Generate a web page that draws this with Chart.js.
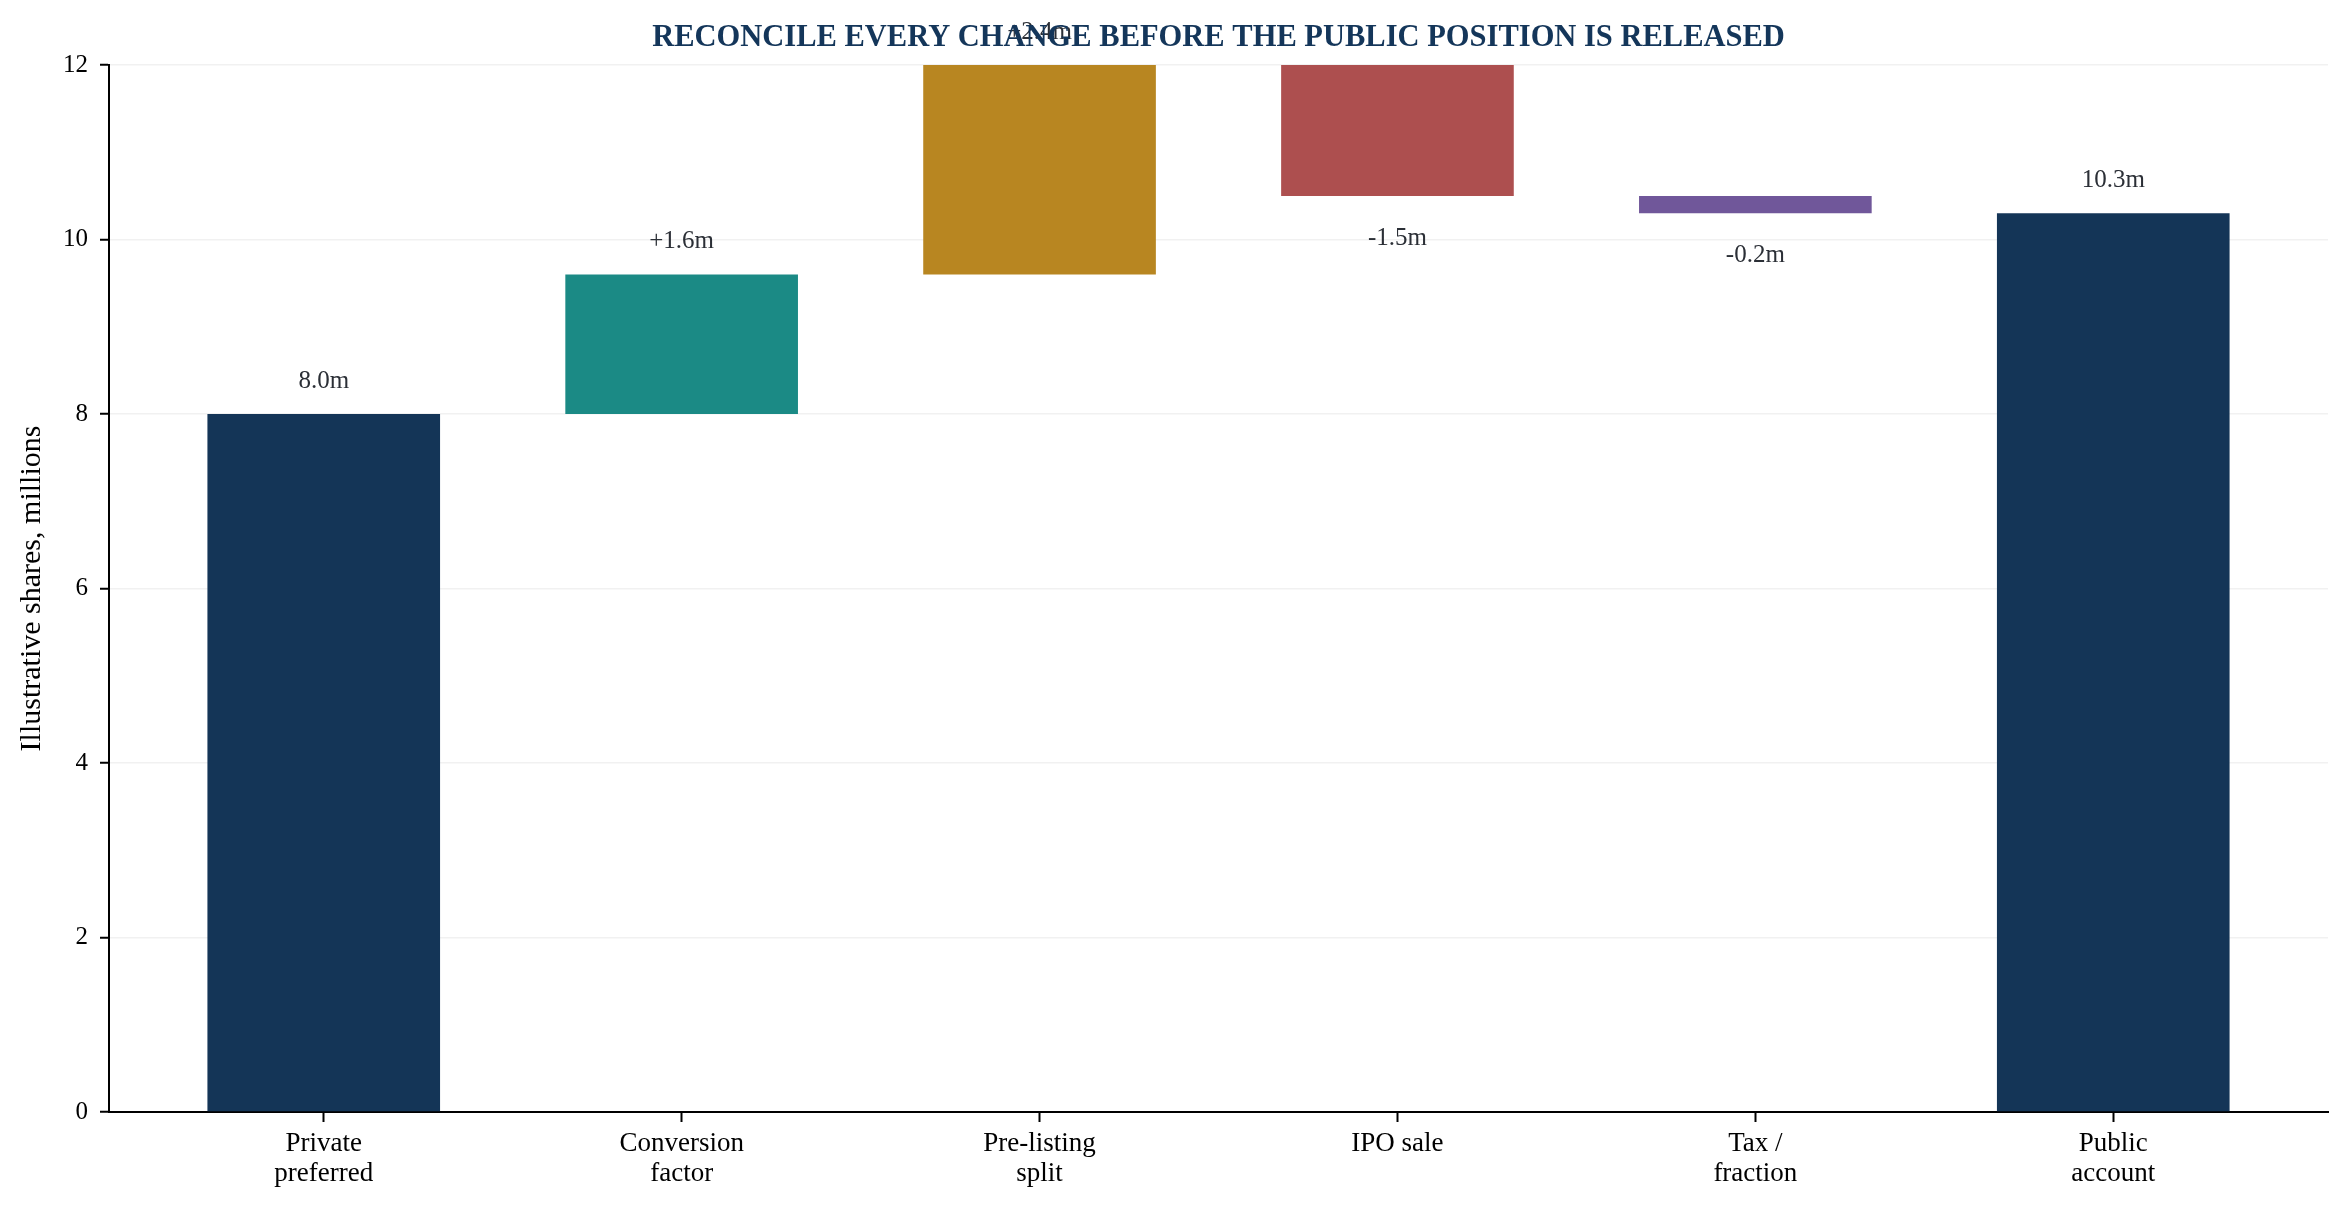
<!DOCTYPE html>
<html>
<head>
<meta charset="utf-8">
<script src="https://cdn.jsdelivr.net/npm/chart.js@4.4.1/dist/chart.umd.min.js"></script>
<style>
  html, body { margin: 0; padding: 0; background: #fff; }
  #wrap { width: 2349px; height: 1211px; position: relative; }
</style>
</head>
<body>
<div id="wrap"><canvas id="waterfall"></canvas></div>
<script>
// ── datos ──
const categories = [
    ['Private', 'preferred'],
    ['Conversion', 'factor'],
    ['Pre-listing', 'split'],
    ['IPO sale'],
    ['Tax /', 'fraction'],
    ['Public', 'account']
];
const startValue = 8.0;
const changes = [1.6, 2.4, -1.5, -0.2];
const endValue = 10.3;
const yTicks = [0, 2, 4, 6, 8, 10, 12];
const barColors = ['#143557', '#1b8a85', '#b88621', '#ad4f4f', '#70579a', '#143557'];

const TITLE = 'RECONCILE EVERY CHANGE BEFORE THE PUBLIC POSITION IS RELEASED';
const FONT = '"Liberation Serif", "DejaVu Serif", serif';

// ── barras flotantes a partir de los valores ──
const bars = [];
const labels = [];
let run = startValue;
bars.push({ x: 0, y: [0, startValue] });
labels.push(startValue.toFixed(1) + 'm');
changes.forEach((d, i) => {
    const next = Math.round((run + d) * 100) / 100;
    bars.push({ x: i + 1, y: [run, next] });
    labels.push((d > 0 ? '+' : '') + d.toFixed(1) + 'm');
    run = next;
});
bars.push({ x: categories.length - 1, y: [0, endValue] });
labels.push(endValue.toFixed(1) + 'm');

// ── plugin: título y etiquetas de valor ──
const annotate = {
    id: 'annotate',
    afterDraw(chart) {
        const { ctx, chartArea, scales: { x, y } } = chart;
        ctx.save();
        ctx.textAlign = 'center';
        ctx.textBaseline = 'alphabetic';

        // etiquetas de cada barra
        ctx.font = '25px ' + FONT;
        ctx.fillStyle = '#2b2f36';
        bars.forEach((b, i) => {
            const lo = Math.min(b.y[0], b.y[1]);
            const hi = Math.max(b.y[0], b.y[1]);
            const negative = b.y[1] < b.y[0];
            const py = negative ? y.getPixelForValue(lo - 0.56) : y.getPixelForValue(hi + 0.3);
            ctx.fillText(labels[i], x.getPixelForValue(b.x), py);
        });

        // título centrado sobre el área del gráfico
        ctx.font = 'bold 30.5px ' + FONT;
        ctx.fillStyle = '#14365a';
        ctx.fillText(TITLE, (chartArea.left + chartArea.right) / 2, 46);
        ctx.restore();
    }
};

new Chart(document.getElementById('waterfall'), {
    type: 'bar',
    data: {
        datasets: [{
            data: bars,
            backgroundColor: barColors,
            borderWidth: 0,
            barPercentage: 0.65,
            categoryPercentage: 1.0
        }]
    },
    options: {
        responsive: true,
        maintainAspectRatio: false,
        devicePixelRatio: 1,
        animation: false,
        layout: { padding: { top: 65, right: 21, left: 0, bottom: 0 } },
        plugins: {
            legend: { display: false },
            title: { display: false },
            tooltip: { enabled: false }
        },
        scales: {
            x: {
                type: 'linear',
                min: -0.6,
                max: 5.6,
                offset: false,
                z: 1,
                afterFit: s => { s.height = 99; },
                afterBuildTicks: s => { s.ticks = categories.map((_, i) => ({ value: i })); },
                border: { color: '#000', width: 2 },
                grid: {
                    offset: false,
                    drawOnChartArea: false,
                    drawTicks: true,
                    tickLength: 10,
                    tickColor: '#000',
                    tickWidth: 2
                },
                ticks: {
                    autoSkip: false,
                    maxRotation: 0,
                    padding: 7,
                    color: '#000',
                    font: { family: FONT, size: 27, lineHeight: 1.12 },
                    callback: v => categories[v] || ''
                }
            },
            y: {
                min: 0,
                max: 12,
                z: 1,
                afterFit: s => { s.width = 109; },
                afterBuildTicks: s => { s.ticks = yTicks.map(v => ({ value: v })); },
                border: { color: '#000', width: 2 },
                grid: {
                    color: 'rgba(170,170,170,0.16)',
                    lineWidth: 1.5,
                    tickLength: 9,
                    tickColor: '#000',
                    tickWidth: 2
                },
                ticks: {
                    padding: 12,
                    color: '#000',
                    font: { family: FONT, size: 25 },
                    callback: v => String(v)
                },
                title: {
                    display: true,
                    text: 'Illustrative shares, millions',
                    color: '#000',
                    font: { family: FONT, size: 30 },
                    padding: { top: 14, bottom: 0 }
                }
            }
        }
    },
    plugins: [annotate]
});
</script>
</body>
</html>
